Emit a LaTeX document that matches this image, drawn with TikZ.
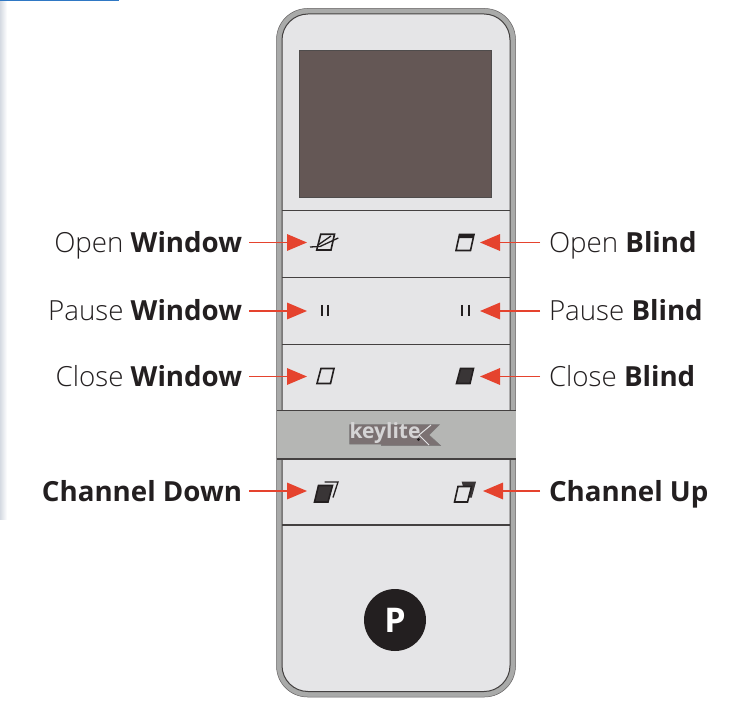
\documentclass[tikz,border=0pt]{standalone}
\usepackage{fontspec}
\setmainfont{Open Sans Light}[BoldFont={Open Sans Bold}]
\usetikzlibrary{arrows.meta}
\definecolor{ink}{HTML}{231F20}
\definecolor{redarr}{HTML}{E5432E}
\definecolor{bodyg}{HTML}{E5E5E7}
\definecolor{rimg}{HTML}{A9AAA9}
\definecolor{bandg}{HTML}{B5B6B4}
\definecolor{screeng}{HTML}{645755}
\definecolor{logog}{HTML}{7B7172}
\definecolor{edgeg}{HTML}{D5DAE2}
\definecolor{bluel}{HTML}{2F78C4}
\tikzset{
 x=1pt,y=-1pt,
 lbl/.style={font=\fontsize{27.7}{30}\selectfont,text=ink,inner sep=0pt,outer sep=0pt,text height=22pt,text depth=2pt},
 arr/.style={draw=redarr,line width=1.7pt,-{Triangle[length=20pt,width=16.5pt,fill=redarr]}},
 rule/.style={draw=ink!85,line width=1.3pt},
 ico/.style={draw=ink,line width=1.6pt,line join=miter},
 icofill/.style={ico,fill=ink!90},
 bar/.style={draw=ink,line width=1.9pt},
}
\begin{document}
\begin{tikzpicture}
\useasboundingbox (0,0) rectangle (736,708);
\fill[white] (0,0) rectangle (736,708);
% page edge
\shade[left color=edgeg,right color=white] (0,0) rectangle (7,519);
\fill[bluel] (0,0) rectangle (119,1.3);
% remote body
\draw[fill=rimg,draw=ink!70,line width=.5pt,rounded corners=31pt] (276.5,8.5) rectangle (515.5,697);
\draw[fill=bodyg,draw=ink!85,line width=1pt,rounded corners=26pt] (282,14) rectangle (510,691.5);
\fill[screeng] (299,50) rectangle (491,197);
\draw[ink!80,line width=.8pt] (299,50) rectangle (491,197);
\draw[rule] (282,210.5) -- (510,210.5);
\draw[rule] (282,277.5) -- (510,277.5);
\draw[rule] (282,344.5) -- (510,344.5);
\draw[rule] (282,525) -- (510,525);
\fill[bandg] (276.5,410.5) rectangle (515.5,459);
\draw[rule] (276.5,410.5) -- (515.5,410.5);
\draw[rule] (276.5,459) -- (515.5,459);
% logo
\fill[logog,draw=ink!60,line width=.5pt] (349.5,424.5) -- (439.5,424.5) -- (429,435) -- (440.5,445.5) -- (381.5,445.5) -- (381,444) -- (349.5,444) -- cycle;
\node[inner sep=0pt,text=bodyg!85!logog,font=\fontsize{21}{21}\selectfont\bfseries] (logotext) at (385,433) {keylite};
\draw[bodyg,line width=1pt] (431,425) -- (419,435) -- (429,445);
\fill[ink] (418.5,439.5) circle (1.6);
% P button
\node[circle,fill=ink,minimum size=62pt,inner sep=0pt,text=white,font=\fontsize{34}{34}\selectfont\bfseries] (pbtn) at (395,620) {P};
% icons
\coordinate (t1) at (307,242.5);
\coordinate (t2) at (307,311);
\coordinate (t3) at (307,376.5);
\coordinate (t4) at (307,491);
\coordinate (u1) at (480,242.5);
\coordinate (u2) at (480,311);
\coordinate (u3) at (480,376.5);
\coordinate (u4) at (483,491);
% open window
\draw[ico] (316.7,250) -- (320.7,234.3) -- (334.5,234.3) -- (331,250) -- cycle;
\draw[ico,line width=1.3pt] (310,247) -- (320,246.5) -- (338.3,238);
\draw[ico,line width=1.3pt] (318,245) -- (331,236);
% open blind
\draw[ico] (456,250.5) -- (459.5,234.5) -- (474,234.5) -- (470.5,250.5) -- cycle;
\fill[ink] (459.5,234.5) -- (474,234.5) -- (473.2,238.2) -- (458.7,238.2) -- cycle;
% pause
\draw[bar] (321.7,305) -- (321.7,316.5);
\draw[bar] (328.3,305) -- (328.3,316.5);
\draw[bar,line width=2.3pt] (461.7,305) -- (461.7,316.5);
\draw[bar,line width=2.3pt] (469,305) -- (469,316.5);
% close
\draw[ico] (317,383.5) -- (321,368.5) -- (334,368.5) -- (330.5,383.5) -- cycle;
\draw[icofill] (456.5,383.5) -- (460.5,368.5) -- (473.5,368.5) -- (470,383.5) -- cycle;
% channel down
\draw[ico,line width=1.3pt] (324.5,482) -- (338,482) -- (333,497.5);
\draw[icofill] (314.5,502) -- (318.5,485.5) -- (332.5,485.5) -- (328,502) -- cycle;
% channel up
\fill[ink!90] (461.7,481.7) -- (476,481.7) -- (471.7,497.7) -- (466,497.7) -- cycle;
\draw[ico,fill=bodyg] (454.5,502) -- (458,486.5) -- (471.5,486.5) -- (467.5,502) -- cycle;
% labels
\node[lbl,anchor=east] (l1) at (242,242.5) {Open \textbf{Window}};
\node[lbl,anchor=east] (l2) at (242,311) {Pause \textbf{Window}};
\node[lbl,anchor=east] (l3) at (242,376.5) {Close \textbf{Window}};
\node[lbl,anchor=east] (l4) at (242,491) {\textbf{Channel Down}};
\node[lbl,anchor=west] (r1) at (549,242.5) {Open \textbf{Blind}};
\node[lbl,anchor=west] (r2) at (549,311) {Pause \textbf{Blind}};
\node[lbl,anchor=west] (r3) at (549,376.5) {Close \textbf{Blind}};
\node[lbl,anchor=west] (r4) at (549,491) {\textbf{Channel Up}};
% arrows
\foreach \a/\b in {l1/t1,l2/t2,l3/t3,l4/t4} \draw[arr,shorten <=7pt] (\a.east) -- (\b);
\foreach \a/\b in {r1/u1,r2/u2,r3/u3,r4/u4} \draw[arr,shorten <=9pt] (\a.west) -- (\b);
\end{tikzpicture}
\end{document}
